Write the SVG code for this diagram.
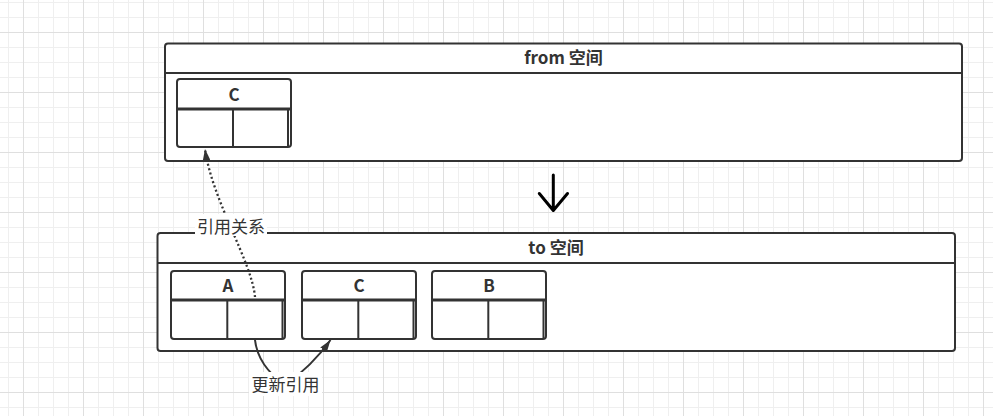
<svg xmlns="http://www.w3.org/2000/svg" width="993" height="416" viewBox="0 0 993 416">
<style>
.box{fill:#fff;stroke:#333;stroke-width:2}
.ln{stroke:#333;stroke-width:2;fill:none}
.hd{stroke:#333;stroke-width:3;fill:none}
.title{font-family:"Noto Sans CJK SC","Noto Sans",sans-serif;font-weight:bold;font-size:17px;fill:#333;text-anchor:middle}
.cell{font-family:"Noto Sans CJK SC","Noto Sans",sans-serif;font-weight:bold;font-size:17px;fill:#333;text-anchor:middle}
.lbl{font-family:"Noto Sans CJK SC","Noto Sans",sans-serif;font-size:17px;fill:#333;text-anchor:middle}
</style>
<defs>
<pattern id="grid" patternUnits="userSpaceOnUse" x="23" y="32" width="60" height="60">
<path d="M15.5,0V60M30.5,0V60M45.5,0V60M0,15.5H60M0,30.5H60M0,45.5H60" stroke="#efefef" stroke-width="1" fill="none"/>
<path d="M0.5,0V60M0,0.5H60" stroke="#dfdfdf" stroke-width="1" fill="none"/>
</pattern>
<marker id="blk" markerUnits="userSpaceOnUse" markerWidth="12" markerHeight="8" refX="12" refY="4" orient="auto" viewBox="0 0 12 8">
<path d="M0,0 L12,4 L0,8 Z" fill="#333"/>
</marker>
</defs>
<rect width="993" height="416" fill="#fff"/>
<rect width="993" height="416" fill="url(#grid)"/>

<g id="from-space">
<rect class="box" x="165" y="43.5" width="797" height="117.5" rx="3"/>
<line class="ln" x1="165" y1="73" x2="962" y2="73"/>
<text class="title" x="563.5" y="64">from 空间</text>
</g>
<g id="from-C">
<rect class="box" x="177" y="79" width="114" height="68" rx="3"/>
<line class="hd" x1="177" y1="109" x2="291" y2="109"/>
<line class="ln" x1="233" y1="109" x2="233" y2="147"/>
<line class="ln" x1="288" y1="109" x2="288" y2="147"/>
<text class="cell" x="234" y="100.5">C</text>
</g>

<g id="to-space">
<rect class="box" x="157.5" y="233" width="797.5" height="118" rx="3"/>
<line class="ln" x1="157.5" y1="263" x2="955" y2="263"/>
<text class="title" x="556" y="254">to 空间</text>
</g>
<g id="to-A">
<rect class="box" x="171" y="271" width="114" height="68" rx="3"/>
<line class="hd" x1="171" y1="300" x2="285" y2="300"/>
<line class="ln" x1="227.3" y1="300" x2="227.3" y2="339"/>
<line class="ln" x1="282.5" y1="300" x2="282.5" y2="339"/>
<text class="cell" x="228" y="292">A</text>
</g>
<g id="to-C">
<rect class="box" x="302" y="271" width="114" height="68" rx="3"/>
<line class="hd" x1="302" y1="300" x2="416" y2="300"/>
<line class="ln" x1="358.3" y1="300" x2="358.3" y2="339"/>
<line class="ln" x1="413.5" y1="300" x2="413.5" y2="339"/>
<text class="cell" x="359" y="292">C</text>
</g>
<g id="to-B">
<rect class="box" x="432" y="271" width="114" height="68" rx="3"/>
<line class="hd" x1="432" y1="300" x2="546" y2="300"/>
<line class="ln" x1="488.3" y1="300" x2="488.3" y2="339"/>
<line class="ln" x1="543.5" y1="300" x2="543.5" y2="339"/>
<text class="cell" x="489" y="292">B</text>
</g>

<g id="connectors">
<path d="M553.3,175 V210 M539.3,193.5 L553.3,210.5 L567.5,193.5" fill="none" stroke="#000" stroke-width="3" stroke-linecap="round" stroke-linejoin="round"/>
<path d="M255,297 C252,262 212,200 205,149" fill="none" stroke="#333" stroke-width="2.3" stroke-dasharray="2 2.5" marker-end="url(#blk)"/>
<rect x="195" y="214" width="72" height="22" fill="#fff"/>
<text class="lbl" x="231" y="232.5">引用关系</text>
<path d="M255,340 Q258,366 285,385 Q312,366 330.5,340" fill="none" stroke="#333" stroke-width="2" marker-end="url(#blk)"/>
<rect x="249" y="372" width="73" height="24" fill="#fff"/>
<text class="lbl" x="285.5" y="390.5">更新引用</text>
</g>
</svg>
